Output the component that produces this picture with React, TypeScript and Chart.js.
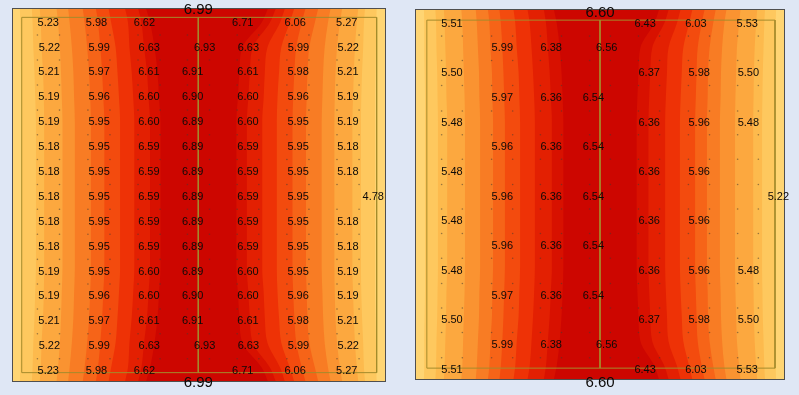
import React, { useEffect, useRef } from 'react';
import { Chart, registerables } from 'chart.js';

Chart.register(...registerables);

// ---------- colour levels (outer edge -> centre) ----------
const BAND_COLORS = ['#FFD573', '#FEC85E', '#FDBA4D', '#FCA83F', '#FA9331', '#F87C24', '#F66418', '#F34B0E', '#EE3206', '#E32002', '#D81100', '#CD0600'];

// y-levels (0 = top edge, 100 = bottom edge) at which contour boundaries are sampled
const Y_LEVELS = [0, 3.8, 10.5, 17.1, 23.8, 30.4, 69.6, 76.2, 82.9, 89.5, 96.2, 100];

// ---------- left panel contour boundaries (x, 0..100) ----------
const L_EDGE = [2.1, 5.3, 7.4, 11.9, 15.0, 18.9, 22.4, 25.8, 30.2, 33.7, 35.8, 68.5, 70.6, 73.0, 75.5, 78.5, 81.9, 85.2, 88.3, 92.6, 94.4, 97.5];
const L_ROW1 = [2.2, 5.5, 7.7, 12.3, 15.4, 19.4, 23.0, 26.5, 31.0, 34.6, 36.9, 66.8, 69.0, 71.7, 74.3, 77.5, 81.0, 84.5, 87.7, 92.2, 94.1, 97.4];
const L_ROW2 = [2.3, 5.7, 7.9, 12.8, 16.0, 20.1, 23.6, 27.7, 31.4, 35.3, 38.1, 61.6, 64.4, 68.3, 72.0, 76.0, 79.5, 83.6, 86.9, 91.7, 93.9, 97.3];
const L_ROW3 = [2.4, 6.0, 8.3, 13.1, 16.4, 20.6, 24.1, 28.2, 32.0, 36.1, 38.9, 60.8, 63.6, 67.6, 71.4, 75.5, 79.0, 83.2, 86.5, 91.4, 93.6, 97.2];
const L_ROW4 = [2.5, 6.2, 8.5, 13.3, 16.6, 20.9, 24.4, 28.6, 32.4, 36.5, 39.3, 60.4, 63.2, 67.3, 71.0, 75.2, 78.8, 83.0, 86.3, 91.2, 93.4, 97.1];
const L_MID = [2.6, 6.4, 8.6, 13.5, 16.8, 21.1, 24.7, 28.9, 32.7, 36.9, 39.7, 60.0, 62.8, 66.9, 70.8, 75.0, 78.6, 82.8, 86.2, 91.0, 93.3, 97.1];
const LEFT_PROFILES = [L_EDGE, L_ROW1, L_ROW2, L_ROW3, L_ROW4, L_MID, L_MID, L_ROW4, L_ROW3, L_ROW2, L_ROW1, L_EDGE];

// ---------- right panel contour boundaries ----------
const R_EDGE = [2.4, 5.5, 7.8, 12.5, 16.4, 19.7, 22.8, 26.6, 30.4, 34.8, 37.5, 66.0, 68.6, 71.8, 75.0, 78.3, 81.3, 84.2, 88.0, 92.5, 94.6, 97.6];
const R_ROW1 = [2.5, 5.7, 8.0, 12.8, 16.7, 20.1, 23.2, 27.1, 31.0, 35.4, 38.3, 64.7, 67.4, 70.8, 74.1, 77.5, 80.6, 83.6, 87.6, 92.2, 94.4, 97.5];
const R_ROW2 = [2.5, 5.8, 8.2, 13.0, 17.0, 20.4, 23.6, 27.5, 31.5, 35.9, 39.1, 60.9, 64.1, 68.5, 72.5, 76.4, 79.6, 83.0, 87.0, 91.8, 94.2, 97.5];
const R_ROW3 = [2.6, 6.0, 8.4, 13.2, 17.3, 20.8, 23.9, 28.0, 31.9, 36.4, 39.6, 60.4, 63.6, 68.1, 72.1, 76.1, 79.2, 82.7, 86.8, 91.6, 94.0, 97.4];
const R_ROW4 = [2.7, 6.1, 8.5, 13.4, 17.4, 20.9, 24.1, 28.2, 32.2, 36.7, 39.9, 60.1, 63.3, 67.8, 71.8, 75.9, 79.1, 82.6, 86.6, 91.5, 93.9, 97.4];
const R_MID = [2.7, 6.2, 8.7, 13.5, 17.6, 21.1, 24.3, 28.4, 32.4, 37.0, 40.1, 59.9, 63.1, 67.6, 71.6, 75.7, 78.9, 82.4, 86.5, 91.4, 93.8, 97.3];
const RIGHT_PROFILES = [R_EDGE, R_ROW1, R_ROW2, R_ROW3, R_ROW4, R_MID, R_MID, R_ROW4, R_ROW3, R_ROW2, R_ROW1, R_EDGE];

// ---------- left panel node values ----------
const LEFT_VALUES: (number | null)[][] = [
  [5.23, 5.98, 6.62, null, 6.71, 6.06, 5.27],
  [5.22, 5.99, 6.63, 6.93, 6.63, 5.99, 5.22],
  [5.21, 5.97, 6.61, 6.91, 6.61, 5.98, 5.21],
  [5.19, 5.96, 6.60, 6.90, 6.60, 5.96, 5.19],
  [5.19, 5.95, 6.60, 6.89, 6.60, 5.95, 5.19],
  [5.18, 5.95, 6.59, 6.89, 6.59, 5.95, 5.18],
  [5.18, 5.95, 6.59, 6.89, 6.59, 5.95, 5.18],
  [5.18, 5.95, 6.59, 6.89, 6.59, 5.95, null],
  [5.18, 5.95, 6.59, 6.89, 6.59, 5.95, 5.18],
  [5.18, 5.95, 6.59, 6.89, 6.59, 5.95, 5.18],
  [5.19, 5.95, 6.60, 6.89, 6.60, 5.95, 5.19],
  [5.19, 5.96, 6.60, 6.90, 6.60, 5.96, 5.19],
  [5.21, 5.97, 6.61, 6.91, 6.61, 5.98, 5.21],
  [5.22, 5.99, 6.63, 6.93, 6.63, 5.99, 5.22],
  [5.23, 5.98, 6.62, null, 6.71, 6.06, 5.27],
];
const L_COLS_EDGE = [9.7, 22.6, 35.4, 48.3, 61.7, 75.7, 89.5];
const L_COLS_NEAR = [10.0, 23.3, 36.7, 51.5, 63.2, 76.6, 89.9];
const L_COLS_MID = [9.9, 23.3, 36.6, 48.3, 63.1, 76.5, 89.8];
const LEFT_ROW_COLS = [L_COLS_EDGE, L_COLS_NEAR, L_COLS_MID, L_COLS_MID, L_COLS_MID, L_COLS_MID, L_COLS_MID, L_COLS_MID, L_COLS_MID, L_COLS_MID, L_COLS_MID, L_COLS_MID, L_COLS_MID, L_COLS_NEAR, L_COLS_EDGE];
const LEFT_ROW_Y = [3.9, 10.6, 17.2, 23.9, 30.6, 37.1, 43.9, 50.5, 57.1, 63.8, 70.5, 77.1, 83.8, 90.4, 97.1];
const LEFT_EXTRA_VALUES = [6.99, 6.99, 4.78];
const LEFT_EXTRA_X = [49.8, 49.8, 96.6];
const LEFT_EXTRA_Y = [0.5, 100.3, 50.5];
const LEFT_EXTRA_BIG = [true, true, false];

// ---------- right panel node values ----------
const RIGHT_VALUES: (number | null)[][] = [
  [5.51, null, null, null, 6.43, 6.03, 5.53],
  [null, 5.99, 6.38, 6.56, null, null, null],
  [5.50, null, null, null, 6.37, 5.98, 5.50],
  [null, 5.97, 6.36, 6.54, null, null, null],
  [5.48, null, null, null, 6.36, 5.96, 5.48],
  [null, 5.96, 6.36, 6.54, null, null, null],
  [5.48, null, null, null, 6.36, 5.96, null],
  [null, 5.96, 6.36, 6.54, null, null, null],
  [5.48, null, null, null, 6.36, 5.96, null],
  [null, 5.96, 6.36, 6.54, null, null, null],
  [5.48, null, null, null, 6.36, 5.96, 5.48],
  [null, 5.97, 6.36, 6.54, null, null, null],
  [5.50, null, null, null, 6.37, 5.98, 5.50],
  [null, 5.99, 6.38, 6.56, null, null, null],
  [5.51, null, null, null, 6.43, 6.03, 5.53],
];
const R_COLS_EDGE = [10.0, 23.6, 36.8, 48.2, 62.2, 75.9, 89.8];
const R_COLS_NEAR = [10.0, 23.6, 36.8, 51.8, 63.3, 76.8, 90.1];
const R_COLS_MID = [10.0, 23.6, 36.8, 48.2, 63.3, 76.8, 90.1];
const RIGHT_ROW_COLS = [R_COLS_EDGE, R_COLS_NEAR, R_COLS_MID, R_COLS_MID, R_COLS_MID, R_COLS_MID, R_COLS_MID, R_COLS_MID, R_COLS_MID, R_COLS_MID, R_COLS_MID, R_COLS_MID, R_COLS_MID, R_COLS_NEAR, R_COLS_EDGE];
const RIGHT_ROW_Y = [4.0, 10.6, 17.2, 24.1, 30.6, 37.1, 43.9, 50.7, 57.1, 63.8, 70.6, 77.4, 83.8, 90.6, 97.3];
const RIGHT_EXTRA_VALUES = [6.60, 6.60, 5.22];
const RIGHT_EXTRA_X = [50.0, 50.0, 98.2];
const RIGHT_EXTRA_Y = [1.0, 100.7, 50.7];
const RIGHT_EXTRA_BIG = [true, true, false];

// ---------- mesh dots ----------
const LEFT_DOT_X = [6.8, 12.7, 20.3, 26.2, 33.7, 39.6, 46.9, 52.8, 60.2, 66.0, 73.5, 79.4, 86.9, 92.8, 101.1];
const LEFT_DOT_Y = [7.2, 13.9, 20.6, 27.3, 33.9, 40.5, 47.2, 53.8, 60.5, 67.2, 73.8, 80.5, 87.1, 93.8];
const RIGHT_DOT_X = [7.2, 12.8, 20.7, 26.4, 33.9, 39.6, 47.2, 52.8, 60.4, 66.1, 73.9, 79.6, 87.2, 92.8];
const RIGHT_DOT_Y = [7.3, 13.9, 20.6, 27.5, 33.9, 40.5, 47.3, 53.9, 60.5, 67.2, 74.0, 80.6, 87.2, 94.0];

// inner element outline and centre line
const LEFT_RECT = [2.6, 2.5, 97.5, 97.5];
const RIGHT_RECT = [3.2, 3.0, 97.3, 96.8];
const LEFT_CENTER_X = 49.8;
const RIGHT_CENTER_X = 50.0;

type Label = { text: string; x: number; y: number; big: boolean };

interface PanelSpec {
  profiles: number[][];
  values: (number | null)[][];
  rowCols: number[][];
  rowY: number[];
  extraV: number[];
  extraX: number[];
  extraY: number[];
  extraBig: boolean[];
  dotX: number[];
  dotY: number[];
  rect: number[];
  centerX: number;
  padding: { left: number; right: number; top: number; bottom: number };
}

function buildChart(canvas: HTMLCanvasElement, spec: PanelSpec) {
  const nB = spec.profiles[0].length; // 22 boundaries
  const datasets: any[] = [];
  for (let k = 0; k <= nB; k++) {
    const pts = Y_LEVELS.map((yv, i) => ({ x: k < nB ? spec.profiles[i][k] : 100, y: yv }));
    const ci = k <= 11 ? k : 22 - k;
    datasets.push({
      data: pts,
      backgroundColor: BAND_COLORS[ci],
      borderColor: 'rgba(0,0,0,0)',
      borderWidth: 0,
      pointRadius: 0,
      fill: { value: 0 },
      cubicInterpolationMode: 'monotone',
      order: 100 + k,
    });
  }
  const [rx0, ry0, rx1, ry1] = spec.rect;
  datasets.push({
    data: [
      { x: rx0, y: ry0 },
      { x: rx1, y: ry0 },
      { x: rx1, y: ry1 },
      { x: rx0, y: ry1 },
      { x: rx0, y: ry0 },
    ],
    borderColor: '#A48B2C',
    borderWidth: 1,
    pointRadius: 0,
    fill: false,
    order: 3,
  });
  datasets.push({
    data: [
      { x: spec.centerX, y: ry0 },
      { x: spec.centerX, y: ry1 },
    ],
    borderColor: '#A48B2C',
    borderWidth: 1,
    pointRadius: 0,
    fill: false,
    order: 2,
  });
  const dots: { x: number; y: number }[] = [];
  spec.dotY.forEach((yv) => spec.dotX.forEach((xv) => dots.push({ x: xv, y: yv })));
  datasets.push({
    data: dots,
    showLine: false,
    pointRadius: 0.8,
    pointBorderWidth: 0,
    pointBackgroundColor: 'rgba(70,60,50,0.55)',
    fill: false,
    clip: false,
    order: 1,
  });

  const labels: Label[] = [];
  spec.values.forEach((row, r) => {
    row.forEach((v, c) => {
      if (v !== null) labels.push({ text: v.toFixed(2), x: spec.rowCols[r][c], y: spec.rowY[r], big: false });
    });
  });
  spec.extraV.forEach((v, i) => labels.push({ text: v.toFixed(2), x: spec.extraX[i], y: spec.extraY[i], big: spec.extraBig[i] }));

  const overlay = {
    id: 'overlay',
    afterDatasetsDraw(chart: any) {
      const { ctx, chartArea } = chart;
      const xs = chart.scales.x;
      const ys = chart.scales.y;
      ctx.save();
      ctx.strokeStyle = '#4f4f4f';
      ctx.lineWidth = 1;
      ctx.strokeRect(chartArea.left + 0.5, chartArea.top + 0.5, chartArea.right - chartArea.left - 1, chartArea.bottom - chartArea.top - 1);
      ctx.fillStyle = '#0d0a08';
      ctx.textAlign = 'center';
      ctx.textBaseline = 'middle';
      for (const l of labels) {
        ctx.font = l.big ? '15px "Liberation Sans", Arial, sans-serif' : '11px "Liberation Sans", Arial, sans-serif';
        ctx.fillText(l.text, xs.getPixelForValue(l.x), ys.getPixelForValue(l.y));
      }
      ctx.restore();
    },
  };

  return new Chart(canvas, {
    type: 'line',
    data: { datasets },
    options: {
      animation: false,
      responsive: false,
      events: [],
      indexAxis: 'y',
      layout: { padding: spec.padding },
      plugins: {
        legend: { display: false },
        tooltip: { enabled: false },
        filler: { propagate: false },
      },
      scales: {
        x: { type: 'linear', min: 0, max: 100, display: false },
        y: { type: 'linear', min: 0, max: 100, reverse: true, display: false },
      },
    } as any,
    plugins: [overlay],
  });
}

const LEFT_SPEC: PanelSpec = {
  profiles: LEFT_PROFILES,
  values: LEFT_VALUES,
  rowCols: LEFT_ROW_COLS,
  rowY: LEFT_ROW_Y,
  extraV: LEFT_EXTRA_VALUES,
  extraX: LEFT_EXTRA_X,
  extraY: LEFT_EXTRA_Y,
  extraBig: LEFT_EXTRA_BIG,
  dotX: LEFT_DOT_X,
  dotY: LEFT_DOT_Y,
  rect: LEFT_RECT,
  centerX: LEFT_CENTER_X,
  padding: { left: 12, right: 14, top: 8, bottom: 13 },
};

const RIGHT_SPEC: PanelSpec = {
  profiles: RIGHT_PROFILES,
  values: RIGHT_VALUES,
  rowCols: RIGHT_ROW_COLS,
  rowY: RIGHT_ROW_Y,
  extraV: RIGHT_EXTRA_VALUES,
  extraX: RIGHT_EXTRA_X,
  extraY: RIGHT_EXTRA_Y,
  extraBig: RIGHT_EXTRA_BIG,
  dotX: RIGHT_DOT_X,
  dotY: RIGHT_DOT_Y,
  rect: RIGHT_RECT,
  centerX: RIGHT_CENTER_X,
  padding: { left: 15, right: 14, top: 9, bottom: 15 },
};

function Panel({ spec, left, width }: { spec: PanelSpec; left: number; width: number }) {
  const ref = useRef<HTMLCanvasElement | null>(null);
  useEffect(() => {
    if (!ref.current) return;
    const chart = buildChart(ref.current, spec);
    return () => chart.destroy();
  }, [spec]);
  return (
    <canvas
      ref={ref}
      width={width}
      height={395}
      style={{ position: 'absolute', left, top: 0, width, height: 395 }}
    />
  );
}

export default function App() {
  return (
    <div style={{ position: 'absolute', left: 0, top: 0, width: 799, height: 395, background: '#DFE7F5', overflow: 'hidden' }}>
      <Panel spec={LEFT_SPEC} left={0} width={400} />
      <Panel spec={RIGHT_SPEC} left={400} width={399} />
    </div>
  );
}
